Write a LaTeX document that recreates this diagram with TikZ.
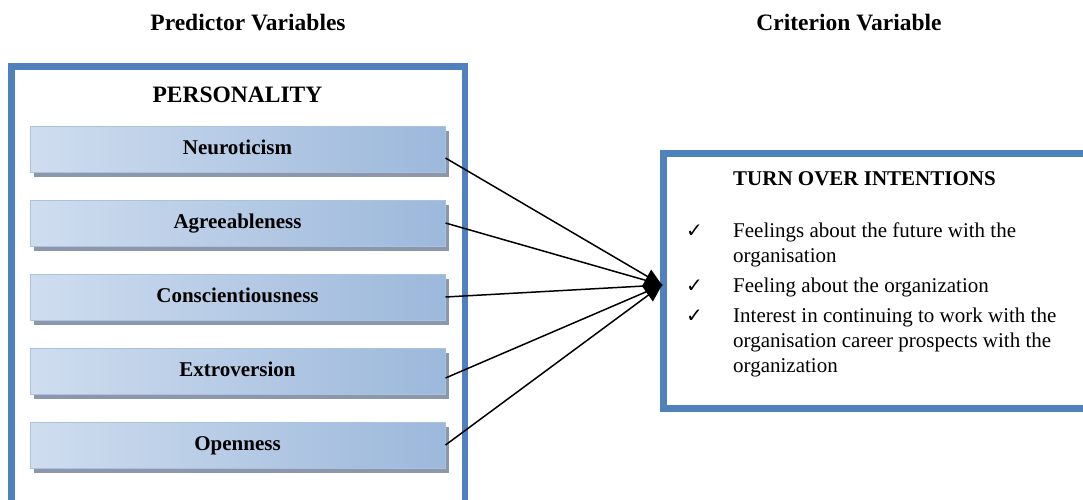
\documentclass[tikz,border=0pt]{standalone}
\usepackage{fontspec}
\setmainfont{Liberation Serif}
\newfontfamily\symfont{DejaVu Sans}
\usetikzlibrary{arrows.meta,shadows}

\definecolor{frameblue}{HTML}{4F81BD}
\definecolor{boxlight}{HTML}{DDE7F3}
\definecolor{boxmid}{HTML}{CFDDEF}
\definecolor{boxdark}{HTML}{9CB8DB}
\definecolor{boxedge}{HTML}{A9C2E0}
\definecolor{shadowgray}{HTML}{8C97AB}

\tikzset{
  heading/.style={font=\fontsize{23.5}{28}\selectfont\bfseries, inner sep=0pt, anchor=base},
  frame/.style={draw=frameblue, line width=#1, outer sep=0pt, inner sep=0pt, anchor=north west},
  trait/.style={draw=boxedge, line width=1pt, left color=boxmid, middle color=boxlight, right color=boxdark,
    minimum width=415pt, minimum height=46pt, inner sep=0pt, text height=14pt, text depth=4pt,
    font=\fontsize{21}{25}\selectfont\bfseries,
    drop shadow={shadow xshift=4pt, shadow yshift=-5pt, fill=shadowgray, opacity=1}},
  tick/.style={font=\symfont\fontsize{20}{24}\selectfont, inner sep=0pt, anchor=base west},
  item/.style={font=\fontsize{21}{25}\selectfont, align=left, inner sep=0pt, anchor=north west},
  link/.style={line width=1.5pt},
  mainlink/.style={link, -{Diamond[length=20pt,width=32pt]}},
}

\begin{document}
\begin{tikzpicture}[x=1pt, y=-1pt]
    \useasboundingbox (0,0) rectangle (1083,499);
    % column headings
    \node[heading] (predhead) at (248,30) {Predictor Variables};
    \node[heading] (crithead) at (849,30) {Criterion Variable};
    % predictor side
    \node[frame=6.5pt, minimum width=453.5pt, minimum height=440pt] (personality) at (11.5,66.5) {};
    \node[heading] (perstitle) at (237.5,102) {PERSONALITY};
    \node[trait] (neuro) at (237.5,149) {Neuroticism};
    \node[trait] (agree) at (237.5,223) {Agreeableness};
    \node[trait] (consc) at (237.5,297) {Conscientiousness};
    \node[trait] (extra) at (237.5,371) {Extroversion};
    \node[trait] (open) at (237.5,445) {Openness};
    % criterion side
    \node[frame=7pt, minimum width=450pt, minimum height=255pt] (turnover) at (663.5,153.5) {};
    \node[heading, anchor=base west, font=\fontsize{21}{25}\selectfont\bfseries] (turntitle) at (733,185) {TURN OVER INTENTIONS};
    \node[tick] (tick1) at (686,237) {✓};
    \node[tick] (tick2) at (686,292) {✓};
    \node[tick] (tick3) at (686,322) {✓};
    \node[item] (future) at (733,219.5) {\strut Feelings about the future with the\\organisation};
    \node[item] (feeling) at (733,274.5) {\strut Feeling about the organization};
    \node[item] (interest) at (733,304.5) {\strut Interest in continuing to work with the\\organisation career prospects with the\\organization};
    % links
    \coordinate (hub) at (662,285);
    \draw[link] ([yshift=-9pt]neuro.east) -- (hub);
    \draw[link] (agree.east) -- (hub);
    \draw[mainlink] (consc.east) -- (hub);
    \draw[link] ([yshift=-7pt]extra.east) -- (hub);
    \draw[link] (open.east) -- (hub);
\end{tikzpicture}
\end{document}
